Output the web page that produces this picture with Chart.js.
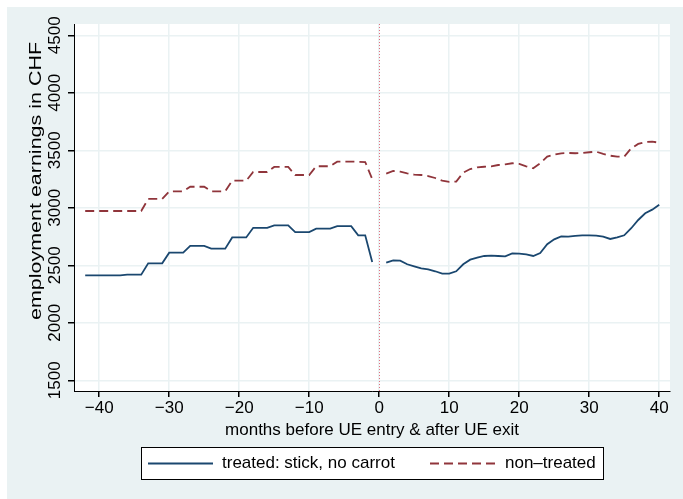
<!DOCTYPE html>
<html>
<head>
<meta charset="utf-8">
<script src="https://cdn.jsdelivr.net/npm/chart.js@4.4.1/dist/chart.umd.min.js"></script>
<style>
  html, body { margin: 0; padding: 0; background: #ffffff; }
  canvas { display: block; }
</style>
</head>
<body>
<canvas id="c" width="683" height="499"></canvas>
<script>
// Months relative to UE entry (negative) and UE exit (positive)
const months = [-42,-41,-40,-39,-38,-37,-36,-35,-34,-33,-32,-31,-30,-29,-28,-27,-26,-25,-24,-23,-22,-21,-20,-19,-18,-17,-16,-15,-14,-13,-12,-11,-10,-9,-8,-7,-6,-5,-4,-3,-2,-1,0,1,2,3,4,5,6,7,8,9,10,11,12,13,14,15,16,17,18,19,20,21,22,23,24,25,26,27,28,29,30,31,32,33,34,35,36,37,38,39,40];

// Mean employment earnings (CHF), treated group
const treated = [2413,2413,2413,2413,2413,2413,2418,2418,2418,2517,2517,2517,2610,2610,2610,2668,2668,2668,2645,2645,2645,2742,2742,2742,2826,2826,2826,2847,2847,2847,2788,2788,2788,2818,2818,2818,2840,2840,2840,2761,2761,2529,
  null,
  2523,2543,2540,2509,2491,2474,2465,2448,2427,2427,2448,2509,2549,2566,2581,2584,2581,2578,2604,2601,2595,2581,2607,2683,2726,2752,2749,2755,2761,2761,2758,2749,2729,2743,2761,2822,2894,2952,2984,3027];

// Mean employment earnings (CHF), non-treated group
const nonTreated = [2972,2972,2972,2972,2972,2972,2972,2972,2972,3077,3077,3077,3143,3143,3143,3183,3183,3183,3143,3143,3143,3236,3236,3236,3311,3311,3311,3355,3355,3355,3285,3285,3285,3361,3361,3361,3401,3401,3401,3400,3398,3250,
  null,
  3297,3320,3314,3300,3288,3285,3276,3259,3236,3225,3228,3305,3337,3352,3357,3360,3372,3378,3387,3381,3361,3343,3387,3445,3462,3474,3477,3474,3477,3483,3488,3468,3453,3445,3445,3517,3555,3572,3575,3566];

const xTicks = [-40, -30, -20, -10, 0, 10, 20, 30, 40];
const yTicks = [1500, 2000, 2500, 3000, 3500, 4000, 4500];

const seriesLabels = ['treated: stick, no carrot', 'non\u2013treated'];
const xTitle = 'months before UE entry & after UE exit';
const yTitle = 'employment earnings in CHF';

const FONT = '"Liberation Sans", Arial, Helvetica, sans-serif';
const BG = '#eaf2f3';

function toPoints(vals) {
  return months.map((m, i) => ({ x: m, y: vals[i] }));
}

function fmtSigned(v) {
  return v < 0 ? '\u2212' + Math.abs(v) : String(v);
}

// Graph region, white plot region, marker line at 0, y title and legend box
const decorations = {
  id: 'decorations',
  beforeDraw(chart) {
    const { ctx, chartArea: a } = chart;
    ctx.save();
    ctx.fillStyle = '#ffffff';
    ctx.fillRect(0, 0, chart.width, chart.height);
    ctx.fillStyle = BG;
    ctx.fillRect(7, 7, chart.width - 7, chart.height - 7);
    ctx.fillStyle = '#ffffff';
    ctx.fillRect(a.left, a.top, a.right - a.left, a.bottom - a.top);
    ctx.restore();
  },
  beforeDatasetsDraw(chart) {
    const { ctx, chartArea: a, scales } = chart;
    const x0 = Math.round(scales.x.getPixelForValue(0)) + 0.5;
    ctx.save();
    ctx.strokeStyle = '#e0707e';
    ctx.lineWidth = 1;
    ctx.setLineDash([1, 2]);
    ctx.beginPath();
    ctx.moveTo(x0, a.top);
    ctx.lineTo(x0, a.bottom);
    ctx.stroke();
    ctx.restore();
  },
  afterDraw(chart) {
    const { ctx } = chart;
    ctx.save();
    // y-axis title, set along the axis
    ctx.font = '17px ' + FONT;
    const w = ctx.measureText(yTitle).width;
    ctx.translate(36, 181);
    ctx.rotate(-Math.PI / 2);
    ctx.scale(278 / w, 1);
    ctx.fillStyle = '#000000';
    ctx.textAlign = 'center';
    ctx.textBaseline = 'middle';
    ctx.fillText(yTitle, 0, 0);
    ctx.restore();

    // legend
    ctx.save();
    ctx.fillStyle = '#ffffff';
    ctx.fillRect(141, 447, 462, 32);
    ctx.strokeStyle = '#000000';
    ctx.lineWidth = 1;
    ctx.strokeRect(141.5, 447.5, 462, 32);
    const ly = 463.5;
    const items = [
      { x1: 148, x2: 213, tx: 222 },
      { x1: 430, x2: 495, tx: 505 }
    ];
    chart.data.datasets.forEach((ds, i) => {
      const it = items[i];
      ctx.strokeStyle = ds.borderColor;
      ctx.lineWidth = ds.borderWidth;
      ctx.setLineDash(ds.borderDash || []);
      ctx.beginPath();
      ctx.moveTo(it.x1, ly);
      ctx.lineTo(it.x2, ly);
      ctx.stroke();
      ctx.setLineDash([]);
      ctx.fillStyle = '#000000';
      ctx.font = '17px ' + FONT;
      ctx.textAlign = 'left';
      ctx.textBaseline = 'middle';
      ctx.fillText(ds.label, it.tx, ly);
    });
    ctx.restore();
  }
};

new Chart(document.getElementById('c'), {
  type: 'line',
  data: {
    datasets: [
      {
        label: seriesLabels[0],
        data: toPoints(treated),
        borderColor: '#1a476f',
        borderWidth: 1.8,
        pointRadius: 0,
        tension: 0,
        spanGaps: false
      },
      {
        label: seriesLabels[1],
        data: toPoints(nonTreated),
        borderColor: '#90353b',
        borderWidth: 1.8,
        borderDash: [9, 5],
        pointRadius: 0,
        tension: 0,
        spanGaps: false
      }
    ]
  },
  options: {
    responsive: false,
    animation: false,
    devicePixelRatio: 1,
    layout: { padding: { left: 0, right: 13, top: 24, bottom: 58 } },
    plugins: {
      legend: { display: false },
      tooltip: { enabled: false }
    },
    scales: {
      x: {
        type: 'linear',
        min: -43.6,
        max: 41.54,
        afterBuildTicks(scale) { scale.ticks = xTicks.map(v => ({ value: v })); },
        afterFit(scale) { scale.height = 50; },
        grid: { color: BG, lineWidth: 1.5, tickColor: '#000000', tickLength: 6, drawTicks: true },
        border: { color: '#000000', width: 1 },
        ticks: {
          color: '#000000',
          font: { family: FONT, size: 17 },
          padding: 1,
          maxRotation: 0,
          autoSkip: false,
          callback: v => fmtSigned(v)
        },
        title: {
          display: true,
          text: xTitle,
          color: '#000000',
          font: { family: FONT, size: 17 },
          padding: { top: 0, bottom: 0 }
        }
      },
      y: {
        type: 'linear',
        min: 1407,
        max: 4598,
        afterBuildTicks(scale) { scale.ticks = yTicks.map(v => ({ value: v })); },
        afterFit(scale) { scale.width = 74; },
        grid: { color: BG, lineWidth: 1.5, tickColor: '#000000', tickLength: 6, drawTicks: true },
        border: { color: '#000000', width: 1 },
        ticks: {
          color: '#000000',
          font: { family: FONT, size: 17 },
          minRotation: 90,
          maxRotation: 90,
          crossAlign: 'center',
          padding: -6,
          autoSkip: false,
          callback: v => String(v)
        }
      }
    }
  },
  plugins: [decorations]
});
</script>
</body>
</html>
